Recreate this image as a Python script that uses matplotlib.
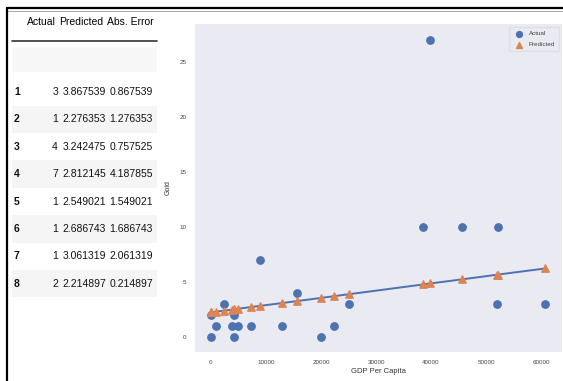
import matplotlib
matplotlib.use('Agg')
import matplotlib.pyplot as plt
import seaborn as sns
from matplotlib.patches import Rectangle
from matplotlib.lines import Line2D

# scatter data: GDP per capita vs gold medals
gdp = [0, 0, 1000, 2300, 3800, 4200, 4200, 5000, 7200, 9000, 12900,
       15600, 20000, 22400, 25100, 38600, 39900, 45600, 51900, 52200, 60800]
actual = [0, 2, 1, 3, 1, 2, 0, 1, 1, 7, 1, 4, 0, 1, 3, 10, 27, 10, 3, 10, 3]
predicted = [2.21, 2.21, 2.28, 2.36, 2.46, 2.49, 2.49, 2.55, 2.69, 2.81, 3.06,
             3.24, 3.53, 3.69, 3.87, 4.76, 4.85, 5.22, 5.64, 5.66, 6.22]

# table shown next to the chart
row_idx = [1, 2, 3, 4, 5, 6, 7, 8]
t_actual = [3, 1, 4, 7, 1, 1, 1, 2]
t_pred = [3.867539, 2.276353, 3.242475, 2.812145, 2.549021, 2.686743, 3.061319, 2.214897]
t_err = [0.867539, 1.276353, 0.757525, 4.187855, 1.549021, 1.686743, 2.061319, 0.214897]
headers = ['Actual', 'Predicted', 'Abs. Error']

sns.set_style("dark")
plt.rcParams['font.family'] = ['Liberation Sans', 'DejaVu Sans']

W, H = 563, 381
fig = plt.figure(figsize=(W / 100, H / 100), dpi=100)
fig.patch.set_facecolor('white')

def fx(px):
    return px / W

def fy(py):
    return 1 - py / H

# borders of the screenshot
fig.add_artist(Line2D([fx(7), 1], [fy(8), fy(8)], color='black', lw=1.6))
fig.add_artist(Line2D([fx(7), 1], [fy(10.5), fy(10.5)], color='#999999', lw=0.6))
fig.add_artist(Line2D([fx(7.5), fx(7.5)], [fy(8), 0], color='black', lw=1.6))

# table
tcol = '#111111'
fs = 7.5
fig.add_artist(Line2D([fx(12), fx(157)], [fy(41), fy(41)], color='#333333', lw=1.2))
fig.add_artist(Rectangle((fx(12), fy(72)), fx(145), 25 / H, color='#f7f7f7', lw=0))
row_y0 = 92
row_h = 27.4
for i, r in enumerate(row_idx):
    yc = row_y0 + i * row_h
    if i % 2 == 1:
        fig.add_artist(Rectangle((fx(12), fy(yc + row_h / 2)), fx(145), row_h / H,
                                 color='#f5f5f5', lw=0))
    fig.text(fx(14), fy(yc), str(r), ha='left', va='center', fontsize=fs,
             fontweight='bold', color=tcol)
    fig.text(fx(58), fy(yc), str(t_actual[i]), ha='right', va='center', fontsize=fs, color=tcol)
    fig.text(fx(106), fy(yc), f"{t_pred[i]:.6f}", ha='right', va='center', fontsize=fs, color=tcol)
    fig.text(fx(153), fy(yc), f"{t_err[i]:.6f}", ha='right', va='center', fontsize=fs, color=tcol)

hx = [56, 103, 154]
for h, x in zip(headers, hx):
    fig.text(fx(x), fy(22), h, ha='right', va='center', fontsize=fs, color='#000000')

# chart
ax = fig.add_axes([fx(195), fy(352), fx(562) - fx(195), (352 - 24) / H])
ax.set_facecolor('#EAEAF2')
for s in ax.spines.values():
    s.set_visible(False)

ax.plot(gdp, predicted, color='#4C72B0', lw=1.4, zorder=2)
ax.scatter(gdp, actual, color='#4C72B0', s=28, label='Actual', zorder=3)
ax.scatter(gdp, predicted, color='#DD8452', marker='^', s=28, label='Predicted', zorder=4)

ax.set_xlim(-2900, 63800)
ax.set_ylim(-1.4, 28.5)
ax.set_xticks([0, 10000, 20000, 30000, 40000, 50000, 60000])
ax.set_yticks([0, 5, 10, 15, 20, 25])
ax.tick_params(labelsize=4.5, colors='#444444', length=0, pad=6)
ax.set_xlabel('GDP Per Capita', fontsize=5.5, color='#333333', labelpad=2)
ax.set_ylabel('Gold', fontsize=5, color='#333333', labelpad=6)

leg = ax.legend(loc='upper right', fontsize=4.5, frameon=True, markerscale=0.8,
                borderpad=0.6, handletextpad=0.6, labelspacing=0.9)
leg.get_frame().set_facecolor('#EAEAF2')
leg.get_frame().set_edgecolor('#dcdce6')
for t in leg.get_texts():
    t.set_color('#444444')

fig.savefig('out.png', dpi=100)
